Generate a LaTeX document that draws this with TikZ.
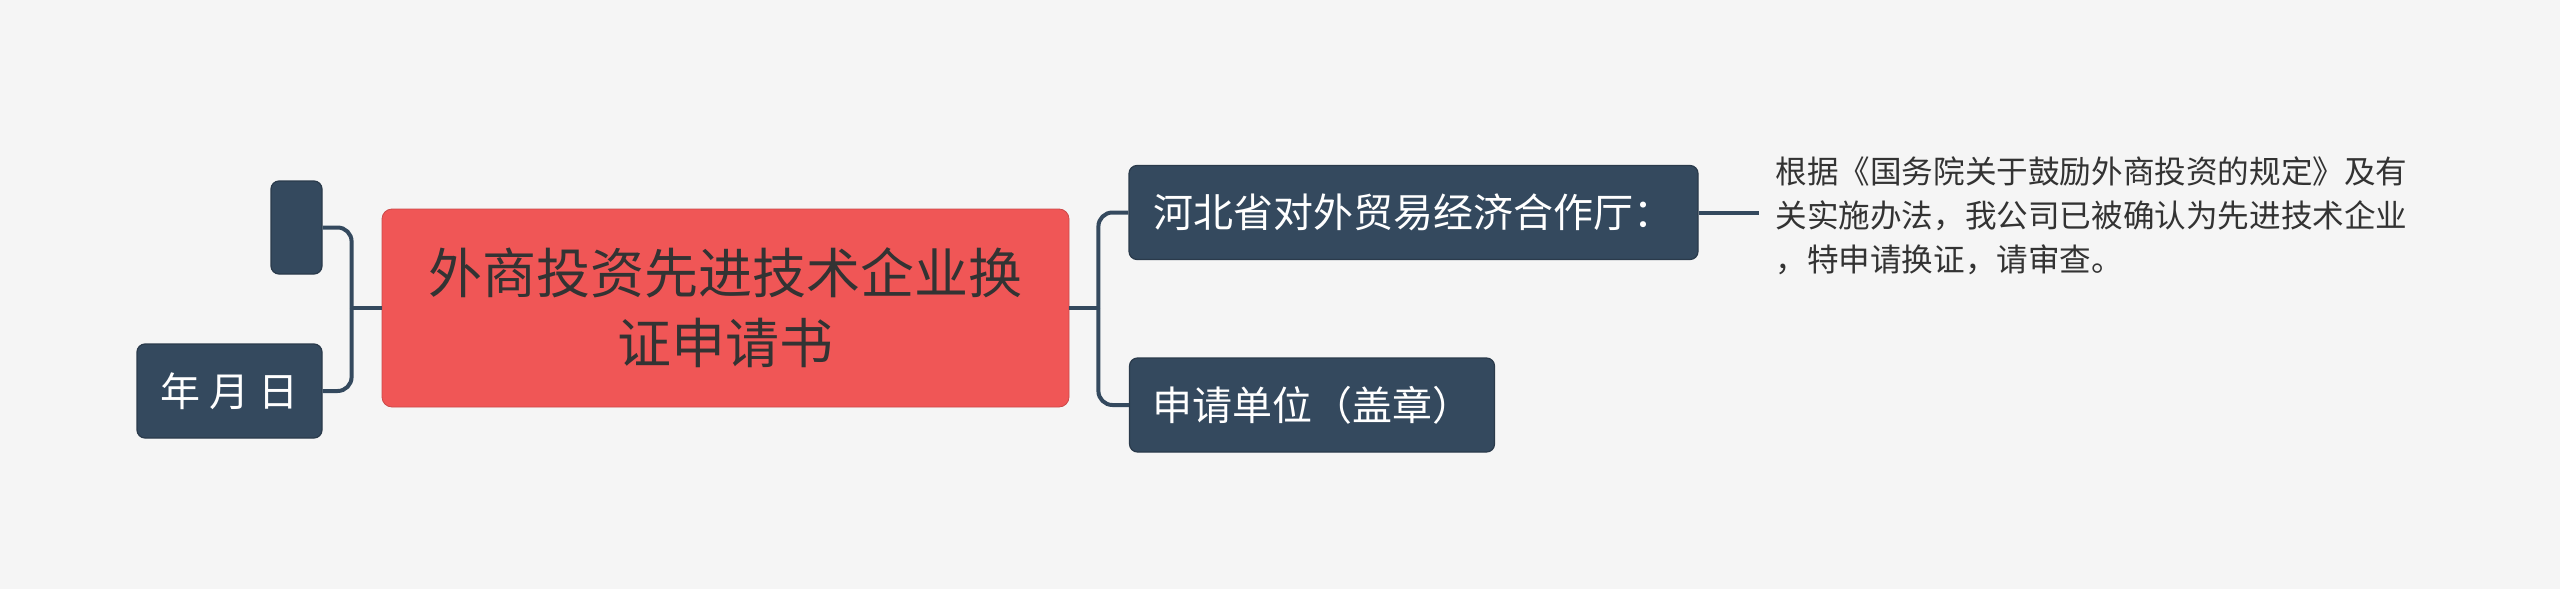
\documentclass[tikz,border=0pt]{standalone}
\usepackage{fontspec}
\setmainfont{Noto Sans CJK SC}
\usetikzlibrary{calc}
\definecolor{paper}{HTML}{F5F5F5}
\definecolor{slate}{HTML}{34495E}
\definecolor{coral}{HTML}{F05656}
\definecolor{ink}{HTML}{333333}

\begin{document}
\begin{tikzpicture}[x=0.5pt,y=-0.5pt,
    topic/.style={draw=slate!80!black,fill=slate,text=white,rounded corners=4pt,line width=0.6pt,
      font=\fontsize{20}{24}\selectfont,minimum height=47pt,inner sep=0pt},
    link/.style={draw=slate,line width=2pt,rounded corners=7pt}]
        \fill[paper] (0,0) rectangle (2560,589);
        \useasboundingbox (0,0) rectangle (2560,589);
        \node[fill=coral,draw=coral!85!black,rounded corners=5pt,text=ink,align=center,minimum width=343.5pt,
          minimum height=99pt,inner sep=0pt,font=\fontsize{27}{35}\selectfont] (root) at (725.5,308){外商投资先进技术企业换\\证申请书};
        \node[topic,minimum width=25.5pt,minimum height=46.5pt] (blank) at (296.5,227.5){};
        \node[topic,minimum width=92.5pt] (date) at (229.5,391){年 月 日};
        \node[topic,minimum width=284.5pt] (hebei) at (1413.5,212.5){河北省对外贸易经济合作厅：};
        \node[topic,minimum width=182.5pt] (unit) at (1312,405){申请单位（盖章）};
        \node[anchor=west,align=left,text=ink,inner xsep=8pt,inner ysep=0pt,font=\fontsize{15.8}{22}\selectfont] (note) at (1759,216){根据《国务院关于鼓励外商投资的规定》及有\\关实施办法，我公司已被确认为先进技术企业\\，特申请换证，请审查。};
        \coordinate (lj) at ($(root.west)+(-30,0)$);
        \coordinate (rj) at ($(root.east)+(29,0)$);
        \draw[link] (root.west) -- (lj);
        \draw[link] (blank.east) -| (lj);
        \draw[link] (date.east) -| (lj);
        \draw[link] (root.east) -- (rj);
        \draw[link] (hebei.west) -| (rj);
        \draw[link] (unit.west) -| (rj);
        \draw[link] (hebei.east) -- (hebei.east -| note.west);
      \end{tikzpicture}
\end{document}
